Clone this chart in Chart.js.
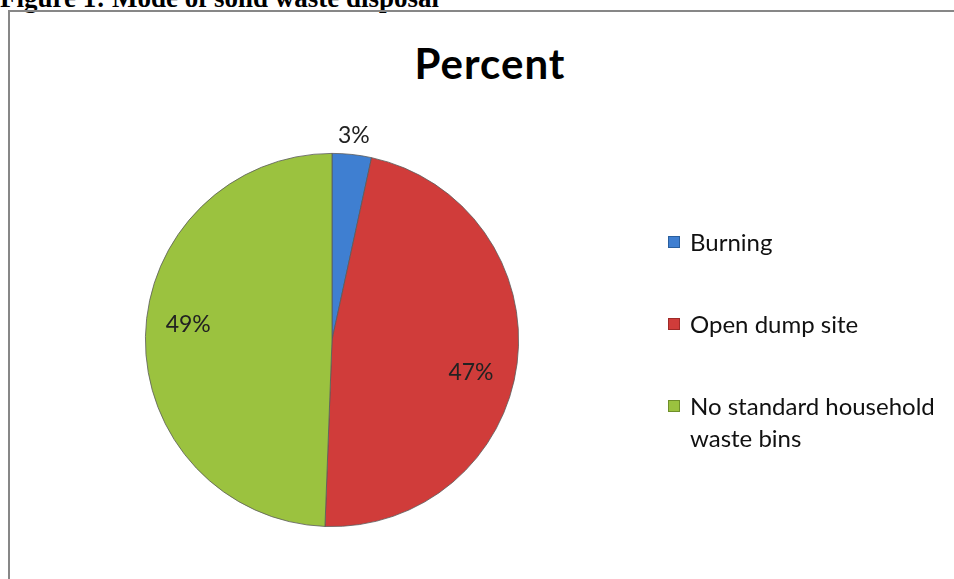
<!DOCTYPE html>
<html>
<head>
<meta charset="utf-8">
<script src="https://cdn.jsdelivr.net/npm/chart.js@4"></script>
<style>
  html, body { margin: 0; padding: 0; background: #fff; overflow: hidden; }
  #wrap { position: relative; width: 954px; height: 579px; }
  #fig { position: absolute; left: 0; top: -15px; font: bold 27px "Liberation Serif", serif; line-height: 27px; color: #000; white-space: nowrap; }
  #frame { position: absolute; left: 8px; top: 10px; width: 960px; height: 600px; border: 2px solid #878787; box-sizing: border-box; }
  #title { position: absolute; left: 0; width: 980px; top: 38px; text-align: center; font: bold 42px Lato, "Open Sans", sans-serif; letter-spacing: 1px; color: #000; }
  #legend { position: absolute; left: 668px; top: 226px; font: 24px Lato, "Open Sans", sans-serif; color: #111; }
  .item { position: relative; padding-left: 22px; width: 290px; line-height: 32px; }
  .box { position: absolute; left: 0; top: 10px; width: 12px; height: 12px; box-sizing: border-box; }
  canvas { position: absolute; left: 0; top: 0; }
</style>
</head>
<body>
<div id="wrap">
  <div id="fig">Figure 1: Mode of solid waste disposal</div>
  <div id="frame"></div>
  <div id="title">Percent</div>
  <canvas id="pie" width="954" height="579"></canvas>
  <div id="legend"></div>
</div>
<script>
const categories = ['Burning', 'Open dump site', 'No standard household waste bins'];
const percentValues = [3.4, 47.2, 49.4];
const valueLabels = ['3%', '47%', '49%'];
const sliceColors = ['#3f7fd1', '#d03c3a', '#9bc23f'];
const edgeColors = ['#2a5f9e', '#9e2a28', '#6f8f2a'];

// label placement: distance from centre (fraction of radius) and a small angle nudge in degrees
const labelRadius = [1.10, 0.765, 0.775];
const labelNudge = [0, 6, 5];

function shade(ctx, i) {
  const chart = ctx.chart;
  const arc = chart.getDatasetMeta(0).data[i];
  if (!arc || !arc.outerRadius) return sliceColors[i];
  const g = chart.ctx.createRadialGradient(arc.x, arc.y, 0, arc.x, arc.y, arc.outerRadius);
  g.addColorStop(0, sliceColors[i]);
  g.addColorStop(0.86, sliceColors[i]);
  g.addColorStop(1, edgeColors[i]);
  return g;
}

const sliceLabels = {
  id: 'sliceLabels',
  afterDatasetsDraw(chart) {
    const c = chart.ctx;
    c.save();
    c.font = '23px Lato, "Open Sans", sans-serif';
    c.fillStyle = '#222';
    c.textAlign = 'center';
    c.textBaseline = 'middle';
    chart.getDatasetMeta(0).data.forEach((arc, i) => {
      const mid = (arc.startAngle + arc.endAngle) / 2 + labelNudge[i] * Math.PI / 180;
      const r = arc.outerRadius * labelRadius[i];
      c.fillText(valueLabels[i], arc.x + Math.cos(mid) * r, arc.y + Math.sin(mid) * r);
    });
    c.restore();
  }
};

const chart = new Chart(document.getElementById('pie').getContext('2d'), {
  type: 'pie',
  data: {
    labels: categories,
    datasets: [{
      data: percentValues,
      backgroundColor: ctx => shade(ctx, ctx.dataIndex),
      borderColor: '#5a5a5a',
      borderWidth: 0.8
    }]
  },
  options: {
    responsive: false,
    animation: false,
    layout: { padding: { left: 145, right: 435, top: 153, bottom: 52 } },
    plugins: {
      legend: { display: false },
      tooltip: { enabled: false }
    }
  },
  plugins: [sliceLabels]
});

const legend = document.getElementById('legend');
categories.forEach((name, i) => {
  const item = document.createElement('div');
  item.className = 'item';
  item.style.marginBottom = '50px';
  item.innerHTML = '<span class="box" style="background:' + sliceColors[i] + ';border:1px solid ' + edgeColors[i] + '"></span>' + name;
  legend.appendChild(item);
});
</script>
</body>
</html>
